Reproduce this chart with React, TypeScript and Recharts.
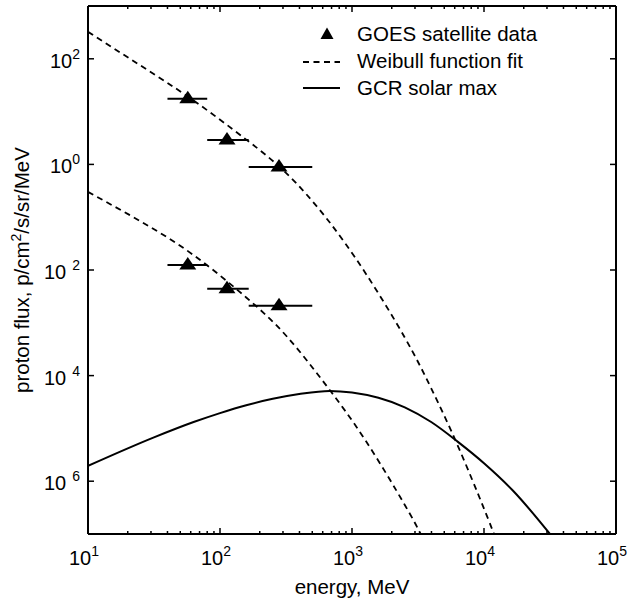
import { ComposedChart, Line, Scatter, ErrorBar, XAxis, YAxis, Legend } from 'recharts';

const FONT = '"Liberation Sans", Arial, Helvetica, sans-serif';

// axis ticks
const xMajorTicks = [10, 100, 1000, 10000, 100000];
const xMinorTicks = [
  20, 30, 40, 50, 60, 70, 80, 90,
  200, 300, 400, 500, 600, 700, 800, 900,
  2000, 3000, 4000, 5000, 6000, 7000, 8000, 9000,
  20000, 30000, 40000, 50000, 60000, 70000, 80000, 90000,
];
const xTicks = [...xMajorTicks, ...xMinorTicks].sort((a, b) => a - b);
const yTicks = [1e-6, 1e-4, 1e-2, 1, 100];

// GCR solar max spectrum
const gcrEnergy = [10, 31.6, 63.1, 100, 158, 251, 398, 676, 1000, 1585, 2512, 3981, 6310, 10000, 16600, 31600];
const gcrFlux = [1.95e-6, 6.76e-6, 1.32e-5, 1.95e-5, 2.75e-5, 3.63e-5, 4.47e-5, 5.13e-5, 4.79e-5, 3.8e-5, 2.51e-5, 1.32e-5, 5.62e-6, 2.19e-6, 6.6e-7, 1.0e-7];

// Weibull fits
const fitHighEnergy = [10, 25.1, 63.1, 158, 316, 631, 1259, 2512, 3981, 6310, 10000, 11900];
const fitHighFlux = [324, 74.1, 16.2, 2.95, 0.692, 0.1, 8.9e-3, 5.25e-4, 5.75e-5, 4.79e-6, 3.02e-7, 1.0e-7];
const fitLowEnergy = [10, 25.1, 63.1, 158, 316, 631, 1259, 2512, 3311];
const fitLowFlux = [0.302, 0.0832, 0.0191, 3.02e-3, 5.75e-4, 6.76e-5, 6.03e-6, 3.55e-7, 1.0e-7];

// GOES channels
const goesEnergy = [57, 113, 280];
const goesEnergyLow = [40, 80, 165];
const goesEnergyHigh = [80, 165, 500];
const goesHighFlux = [17.5, 2.9, 0.89];
const goesLowFlux = [0.0124, 0.0044, 0.0021];

const toPoints = (es: number[], fs: number[]) => es.map((e, i) => ({ e, f: fs[i] }));
const toGoes = (fs: number[]) =>
  goesEnergy.map((e, i) => ({
    e,
    f: fs[i],
    ex: [e - goesEnergyLow[i], goesEnergyHigh[i] - e],
  }));

const gcrData = toPoints(gcrEnergy, gcrFlux);
const fitHighData = toPoints(fitHighEnergy, fitHighFlux);
const fitLowData = toPoints(fitLowEnergy, fitLowFlux);
const goesHigh = toGoes(goesHighFlux);
const goesLow = toGoes(goesLowFlux);

const expOf = (v: number) => Math.round(Math.log10(v));

function BottomTick(props: any) {
  const { x, y, payload } = props;
  const major = xMajorTicks.includes(payload.value);
  return (
    <g>
      <line x1={x} x2={x} y1={y} y2={y - (major ? 6 : 3)} stroke="#000" strokeWidth={1.5} />
      {major && (
        <text x={x - 4} y={y + 31} textAnchor="middle" fontSize={20} fontFamily={FONT} fill="#000">
          10<tspan dy={-9} fontSize={14}>{expOf(payload.value)}</tspan>
        </text>
      )}
    </g>
  );
}

function TopTick(props: any) {
  const { x, y, payload } = props;
  const major = xMajorTicks.includes(payload.value);
  return <line x1={x} x2={x} y1={y} y2={y + (major ? 6 : 3)} stroke="#000" strokeWidth={1.5} />;
}

function LeftTick(props: any) {
  const { x, y, payload } = props;
  const p = expOf(payload.value);
  return (
    <g>
      <line x1={x} x2={x + 6} y1={y} y2={y} stroke="#000" strokeWidth={1.5} />
      <text x={x - 8} y={y + 9} textAnchor="end" fontSize={20} fontFamily={FONT} fill="#000">
        10<tspan dx={p < 0 ? 6 : 0} dy={-9} fontSize={14}>{Math.abs(p)}</tspan>
      </text>
    </g>
  );
}

function RightTick(props: any) {
  const { x, y } = props;
  return <line x1={x} x2={x - 6} y1={y} y2={y} stroke="#000" strokeWidth={1.5} />;
}

function XLabel(props: any) {
  const vb = props.viewBox;
  return (
    <text x={vb.x + vb.width / 2} y={vb.y + 60} textAnchor="middle" fontSize={20.5} fontFamily={FONT} fill="#000">
      energy, MeV
    </text>
  );
}

function YLabel(props: any) {
  const vb = props.viewBox;
  const cy = vb.y + vb.height / 2;
  return (
    <text transform={`translate(29, ${cy}) rotate(-90)`} textAnchor="middle" fontSize={20.5} fontFamily={FONT} fill="#000">
      proton flux, p/cm<tspan dy={-8} fontSize={14}>2</tspan>
      <tspan dy={8}>/s/sr/MeV</tspan>
    </text>
  );
}

function Triangle(props: any) {
  const { cx, cy } = props;
  return <polygon points={`${cx},${cy - 8} ${cx - 8.5},${cy + 4.5} ${cx + 8.5},${cy + 4.5}`} fill="#000" />;
}

function LegendBox() {
  const t = { fontSize: 20.5, fontFamily: FONT, fill: '#000' };
  return (
    <svg width={638} height={110} style={{ display: 'block' }}>
      <polygon points="327,27.5 320.5,39 333.5,39" fill="#000" />
      <text x={357} y={41} {...t}>GOES satellite data</text>
      <line x1={303} x2={340} y1={62} y2={62} stroke="#000" strokeWidth={1.8} strokeDasharray="6 4.5" />
      <text x={357} y={68} {...t}>Weibull function fit</text>
      <line x1={303} x2={340} y1={88} y2={88} stroke="#000" strokeWidth={1.8} />
      <text x={357} y={95} {...t}>GCR solar max</text>
    </svg>
  );
}

export default function App() {
  const logX = { type: 'number' as const, scale: 'log' as const, domain: [10, 100000], allowDataOverflow: true, dataKey: 'e', ticks: xTicks, interval: 0 as const };
  const logY = { type: 'number' as const, scale: 'log' as const, domain: [1e-7, 1000], allowDataOverflow: true, dataKey: 'f', ticks: yTicks, interval: 0 as const };
  return (
    <div style={{ position: 'absolute', left: 0, top: 0, background: '#fff' }}>
      <ComposedChart width={638} height={607} margin={{ top: 5, right: 21, bottom: 0, left: 0 }}>
        <XAxis
          xAxisId="b"
          {...logX}
          height={73}
          tickSize={0}
          tickMargin={0}
          tickLine={false}
          tick={<BottomTick />}
          axisLine={{ stroke: '#000', strokeWidth: 2 }}
          label={<XLabel />}
        />
        <XAxis
          xAxisId="t"
          {...logX}
          orientation="top"
          height={1}
          tickSize={0}
          tickMargin={0}
          tickLine={false}
          tick={<TopTick />}
          axisLine={{ stroke: '#000', strokeWidth: 2 }}
        />
        <YAxis
          yAxisId="l"
          {...logY}
          width={88}
          tickSize={0}
          tickMargin={0}
          tickLine={false}
          tick={<LeftTick />}
          axisLine={{ stroke: '#000', strokeWidth: 2 }}
          label={<YLabel />}
        />
        <YAxis
          yAxisId="r"
          {...logY}
          orientation="right"
          width={1}
          tickSize={0}
          tickMargin={0}
          tickLine={false}
          tick={<RightTick />}
          axisLine={{ stroke: '#000', strokeWidth: 2 }}
        />
        <Line xAxisId="t" yAxisId="r" data={gcrData} dataKey="f" type="monotone" stroke="#000" strokeWidth={2} dot={false} isAnimationActive={false} />
        <Line xAxisId="b" yAxisId="l" data={fitHighData} dataKey="f" type="natural" stroke="#000" strokeWidth={1.8} strokeDasharray="6 4.5" dot={false} isAnimationActive={false} />
        <Line xAxisId="b" yAxisId="l" data={fitLowData} dataKey="f" type="natural" stroke="#000" strokeWidth={1.8} strokeDasharray="6 4.5" dot={false} isAnimationActive={false} />
        <Scatter xAxisId="b" yAxisId="l" data={goesHigh} dataKey="f" shape={<Triangle />} isAnimationActive={false}>
          <ErrorBar dataKey="ex" direction="x" width={0} stroke="#000" strokeWidth={2} />
        </Scatter>
        <Scatter xAxisId="b" yAxisId="l" data={goesLow} dataKey="f" shape={<Triangle />} isAnimationActive={false}>
          <ErrorBar dataKey="ex" direction="x" width={0} stroke="#000" strokeWidth={2} />
        </Scatter>
        <Legend
          layout="vertical"
          verticalAlign="middle"
          align="center"
          content={<LegendBox />}
          wrapperStyle={{ position: 'absolute', left: 0, top: 0, width: 638, height: 110 }}
        />
      </ComposedChart>
    </div>
  );
}
